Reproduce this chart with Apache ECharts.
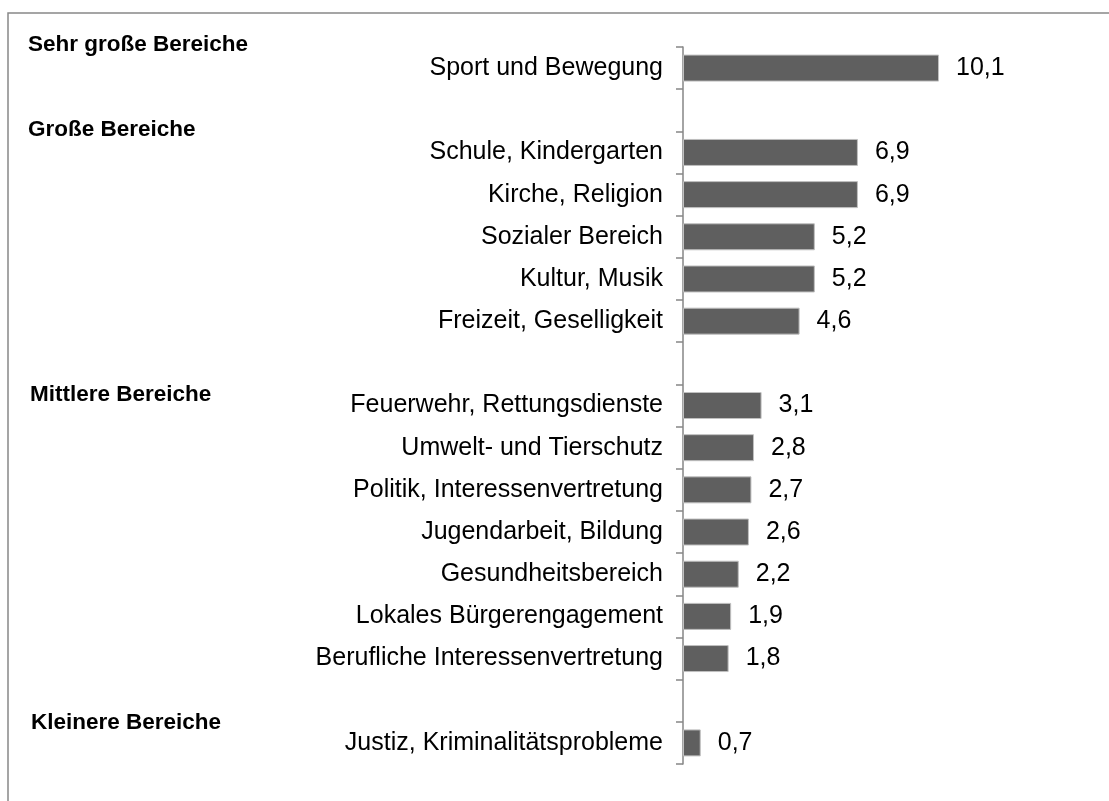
<!DOCTYPE html>
<html lang="de">
<head>
    <meta charset="utf-8">
    <title>Engagementbereiche</title>
    <script src="https://cdn.jsdelivr.net/npm/echarts@6.0.0/dist/echarts.min.js"></script>
    <style>
        html, body { margin: 0; padding: 0; background: #fff; }
        #main { width: 1109px; height: 801px; }
    </style>
</head>
<body>
<div id="main"></div>
<script type="text/javascript">
    // Kategorien (leere Einträge = Abstand zwischen den Gruppen)
    var categories = [
        'Sport und Bewegung', '',
        'Schule, Kindergarten', 'Kirche, Religion', 'Sozialer Bereich', 'Kultur, Musik', 'Freizeit, Geselligkeit', '',
        'Feuerwehr, Rettungsdienste', 'Umwelt- und Tierschutz', 'Politik, Interessenvertretung',
        'Jugendarbeit, Bildung', 'Gesundheitsbereich', 'Lokales Bürgerengagement', 'Berufliche Interessenvertretung', '',
        'Justiz, Kriminalitätsprobleme'
    ];
    var values = [
        10.1, null,
        6.9, 6.9, 5.2, 5.2, 4.6, null,
        3.1, 2.8, 2.7, 2.6, 2.2, 1.9, 1.8, null,
        0.7
    ];
    var groupTitles = ['Sehr große Bereiche', 'Große Bereiche', 'Mittlere Bereiche', 'Kleinere Bereiche'];

    var font = '"Liberation Sans", Arial, sans-serif';
    var myChart = echarts.init(document.getElementById('main'));

    var titleY = [45, 130, 395, 723];
    var titleX = [28, 28, 30, 31];

    var option = {
        animation: false,
        grid: { left: 683, top: 47, height: 717, width: 405.6 },
        xAxis: {
            type: 'value', min: 0, max: 16, show: false
        },
        yAxis: {
            type: 'category',
            inverse: true,
            data: categories,
            axisLine: { show: true, lineStyle: { color: '#868686', width: 1.5 } },
            axisTick: { show: true, alignWithLabel: false, length: 7, lineStyle: { color: '#868686', width: 1.5 } },
            axisLabel: { color: '#000', fontSize: 25, fontFamily: font, margin: 20 }
        },
        graphic: [
            // Rahmen
            { type: 'rect', shape: { x: 8, y: 13, width: 1200, height: 900 },
              style: { fill: null, stroke: '#888', lineWidth: 1.5 }, silent: true }
        ].concat(groupTitles.map(function (t, i) {
            return {
                type: 'text', left: titleX[i], top: titleY[i] - 12,
                style: { text: t, fill: '#000', font: 'bold 22.5px ' + font }
            };
        })),
        series: [{
            type: 'bar',
            data: values,
            barWidth: 27,
            itemStyle: { color: '#5f5f5f', borderColor: '#c0c0c0', borderWidth: 1 },
            label: {
                show: true, position: 'right', distance: 17,
                color: '#000', fontSize: 25, fontFamily: font,
                formatter: function (p) { return String(p.value).replace('.', ','); }
            }
        }]
    };
    myChart.setOption(option);
</script>
</body>
</html>
